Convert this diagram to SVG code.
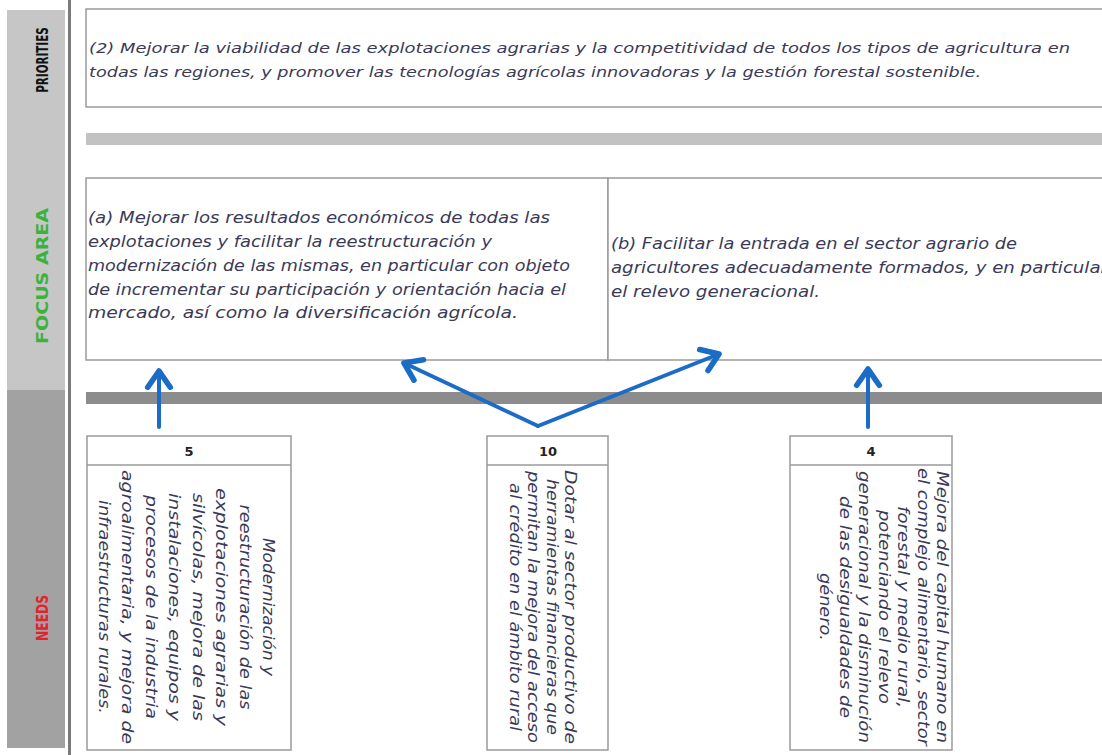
<svg xmlns="http://www.w3.org/2000/svg" width="1102" height="755" viewBox="0 0 1102 755">
<style>
.box{fill:#ffffff;stroke:#9a9a9a;stroke-width:1.5}
.t{font-family:"DejaVu Sans","Liberation Sans",sans-serif;font-style:italic;fill:#3a3a58}
.pr{font-size:14.5px}
.fa{font-size:15.5px}
.nd{font-size:15px}
.num{font-family:"DejaVu Sans","Liberation Sans",sans-serif;font-weight:bold;font-size:13px;fill:#222}
.side{font-family:"DejaVu Sans","Liberation Sans",sans-serif;font-weight:bold;font-size:16px}
.conn{stroke:#1a6cc6;stroke-width:4;fill:none;stroke-linecap:round}
</style>
<defs>
<marker id="ah" markerUnits="userSpaceOnUse" markerWidth="30" markerHeight="30" viewBox="-16 -12 20 24" refX="0" refY="0" orient="auto">
<path d="M-13,-9 L0,0 L-13,9" fill="none" stroke="#1a6cc6" stroke-width="4.5" stroke-linecap="round" stroke-linejoin="round"/>
</marker>
</defs>
<rect width="1102" height="755" fill="#ffffff"/>

<g id="sidebar">
<rect x="7" y="10" width="58" height="380" fill="#c6c6c6"/>
<rect x="7" y="390" width="58" height="358" fill="#a2a2a2"/>
<rect x="68" y="0" width="3" height="755" fill="#7a7a7a"/>
<text class="side" fill="#111" style="font-size:15px" transform="translate(48,60) rotate(-90) scale(0.69,1)" text-anchor="middle">PRIORITIES</text>
<text class="side" fill="#3cb23c" transform="translate(48,276) rotate(-90)" text-anchor="middle" textLength="136" lengthAdjust="spacingAndGlyphs">FOCUS AREA</text>
<text class="side" fill="#e3222c" transform="translate(48,618) rotate(-90)" text-anchor="middle" textLength="46" lengthAdjust="spacingAndGlyphs">NEEDS</text>
</g>

<g id="priority">
<rect class="box" x="86" y="9" width="1030" height="98"/>
<text class="t pr" x="89" y="53" textLength="981" lengthAdjust="spacingAndGlyphs">(2) Mejorar la viabilidad de las explotaciones agrarias y la competitividad de todos los tipos de agricultura en</text>
<text class="t pr" x="89" y="77" textLength="892" lengthAdjust="spacingAndGlyphs">todas las regiones, y promover las tecnologías agrícolas innovadoras y la gestión forestal sostenible.</text>
</g>

<rect id="bar1" x="86" y="133" width="1020" height="12" fill="#c2c2c2"/>

<g id="focus-a">
<rect class="box" x="86" y="178" width="522" height="182"/>
<text class="t fa" x="88" y="223" textLength="462" lengthAdjust="spacingAndGlyphs">(a) Mejorar los resultados económicos de todas las</text>
<text class="t fa" x="88" y="247" textLength="404" lengthAdjust="spacingAndGlyphs">explotaciones y facilitar la reestructuración y</text>
<text class="t fa" x="88" y="271" textLength="482" lengthAdjust="spacingAndGlyphs">modernización de las mismas, en particular con objeto</text>
<text class="t fa" x="88" y="295" textLength="478" lengthAdjust="spacingAndGlyphs">de incrementar su participación y orientación hacia el</text>
<text class="t fa" x="88" y="318" textLength="430" lengthAdjust="spacingAndGlyphs">mercado, así como la diversificación agrícola.</text>
</g>

<g id="focus-b">
<rect class="box" x="608" y="178" width="510" height="182"/>
<text class="t fa" x="611" y="249" textLength="406" lengthAdjust="spacingAndGlyphs">(b) Facilitar la entrada en el sector agrario de</text>
<text class="t fa" x="611" y="273" textLength="497" lengthAdjust="spacingAndGlyphs">agricultores adecuadamente formados, y en particular</text>
<text class="t fa" x="611" y="297" textLength="209" lengthAdjust="spacingAndGlyphs">el relevo generacional.</text>
</g>

<rect id="bar2" x="86" y="392" width="1020" height="12" fill="#8c8c8c"/>

<g id="need-5">
<rect class="box" x="87" y="436" width="204" height="314"/>
<line x1="87" y1="465" x2="291" y2="465" stroke="#9a9a9a" stroke-width="1.5"/>
<text class="num" x="189" y="456" text-anchor="middle">5</text>
<g transform="translate(268,607) rotate(90)" class="t nd" text-anchor="middle" dominant-baseline="central">
<text y="0" textLength="138" lengthAdjust="spacingAndGlyphs">Modernización y</text>
<text y="23.5" textLength="205" lengthAdjust="spacingAndGlyphs">reestructuración de las</text>
<text y="47" textLength="238" lengthAdjust="spacingAndGlyphs">explotaciones agrarias y</text>
<text y="70.5" textLength="228" lengthAdjust="spacingAndGlyphs">silvícolas, mejora de las</text>
<text y="94" textLength="228" lengthAdjust="spacingAndGlyphs">instalaciones, equipos y</text>
<text y="117.5" textLength="224" lengthAdjust="spacingAndGlyphs">procesos de la industria</text>
<text y="141" textLength="274" lengthAdjust="spacingAndGlyphs">agroalimentaria, y mejora de</text>
<text y="164.5" textLength="214" lengthAdjust="spacingAndGlyphs">infraestructuras rurales.</text>
</g>
</g>

<g id="need-10">
<rect class="box" x="487" y="436" width="121" height="314"/>
<line x1="487" y1="465" x2="608" y2="465" stroke="#9a9a9a" stroke-width="1.5"/>
<text class="num" x="548" y="456" text-anchor="middle">10</text>
<g transform="translate(570,607) rotate(90)" class="t nd" text-anchor="middle" dominant-baseline="central">
<text y="0" textLength="274" lengthAdjust="spacingAndGlyphs">Dotar al sector productivo de</text>
<text y="18.5" textLength="256" lengthAdjust="spacingAndGlyphs">herramientas financieras que</text>
<text y="37" textLength="272" lengthAdjust="spacingAndGlyphs">permitan la mejora del acceso</text>
<text y="55.5" textLength="248" lengthAdjust="spacingAndGlyphs">al crédito en el ámbito rural</text>
</g>
</g>

<g id="need-4">
<rect class="box" x="790" y="436" width="162" height="314"/>
<line x1="790" y1="465" x2="952" y2="465" stroke="#9a9a9a" stroke-width="1.5"/>
<text class="num" x="871" y="456" text-anchor="middle">4</text>
<g transform="translate(942,607) rotate(90)" class="t nd" text-anchor="middle" dominant-baseline="central">
<text y="0" textLength="272" lengthAdjust="spacingAndGlyphs">Mejora del capital humano en</text>
<text y="19.5" textLength="278" lengthAdjust="spacingAndGlyphs">el complejo alimentario, sector</text>
<text y="39" textLength="202" lengthAdjust="spacingAndGlyphs">forestal y medio rural,</text>
<text y="58.5" textLength="194" lengthAdjust="spacingAndGlyphs">potenciando el relevo</text>
<text y="78" textLength="272" lengthAdjust="spacingAndGlyphs">generacional y la disminución</text>
<text y="97.5" textLength="222" lengthAdjust="spacingAndGlyphs">de las desigualdades de</text>
<text y="117" textLength="68" lengthAdjust="spacingAndGlyphs">género.</text>
</g>
</g>

<g id="connectors">
<line class="conn" x1="159" y1="427" x2="159" y2="371" marker-end="url(#ah)"/>
<line class="conn" x1="538" y1="426" x2="404" y2="363" marker-end="url(#ah)"/>
<line class="conn" x1="538" y1="426" x2="719" y2="354" marker-end="url(#ah)"/>
<line class="conn" x1="868" y1="427" x2="868" y2="369" marker-end="url(#ah)"/>
</g>
</svg>
